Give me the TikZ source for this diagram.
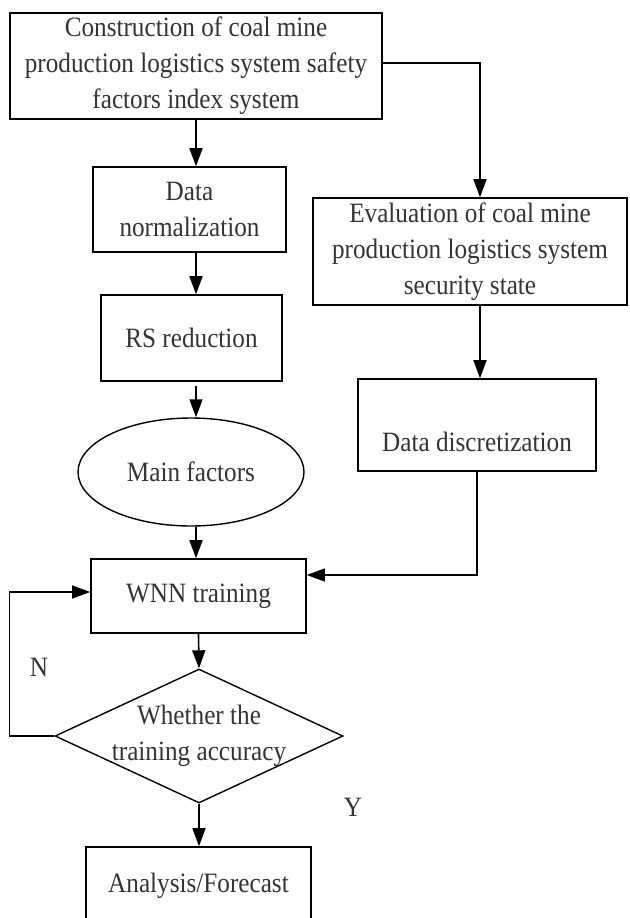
\documentclass[tikz,border=0pt]{standalone}
\usepackage{xcolor}
\usepackage{fontspec}
\setmainfont[FakeStretch=0.9]{Liberation Serif}
\usepackage{tikz}
\usetikzlibrary{shapes.geometric,arrows.meta}

\begin{document}
\begin{tikzpicture}[x=1pt,y=-1pt]
        % Define styles
        \tikzset{
            stepbox/.style={rectangle, draw, line width=1.6pt, align=center, inner sep=0pt},
            decision/.style={diamond, draw, line width=1.4pt, inner sep=0pt},
            result/.style={ellipse, draw, line width=1.4pt, inner sep=0pt},
            arrow/.style={-{Triangle[length=18pt,width=13pt]}, line width=1.6pt},
            every node/.style={font=\fontsize{28}{36}\selectfont, text=black!80}
        }
        \useasboundingbox (0,0) rectangle (629,918);

        % Nodes
        \node[stepbox, minimum width=372, minimum height=106] (construct) at (196,66)
            {Construction of coal mine\\production logistics system safety\\factors index system};
        \node[stepbox, minimum width=193, minimum height=85] (norm) at (189.5,209.5)
            {Data\\normalization};
        \node[stepbox, minimum width=181, minimum height=86] (rs) at (191.5,338) {RS reduction};
        \node[result, minimum width=226, minimum height=108] (mainf) at (191,472) {Main factors};
        \node[stepbox, minimum width=215, minimum height=74] (wnn) at (198.5,596) {WNN training};
        \node[decision, minimum width=288, minimum height=134,
            label={[align=center, text=black!80]center:Whether the\\training accuracy}] (accuracy) at (199,736) {};
        \node[stepbox, minimum width=225, minimum height=78] (analysis) at (198.5,886) {Analysis/Forecast};

        \node[stepbox, minimum width=314, minimum height=107] (evaluation) at (470,251.5)
            {Evaluation of coal mine\\production logistics system\\security state};
        \node[stepbox, minimum width=238, minimum height=92] (discrete) at (477,425)
            {\rule{0pt}{54pt}Data discretization};

        \node (no) at (39,667) {N};
        \node (yes) at (353,807) {Y};

        % Arrows
        \draw[arrow] (construct.south) -- (construct.south |- norm.north);
        \draw[arrow] (construct.south |- norm.south) -- (construct.south |- rs.north);
        \draw[arrow] ([yshift=-4pt]construct.south |- rs.south) -- (construct.south |- mainf.north);
        \draw[arrow] (construct.south |- mainf.south) -- (construct.south |- wnn.north);
        \draw[arrow] (wnn.south) -- (accuracy.north);
        \draw[arrow] (accuracy.south) -- (accuracy.south |- analysis.north);

        \draw[arrow] ([yshift=3pt]construct.east) -| ([xshift=10pt]evaluation.north);
        \draw[arrow] ([xshift=10pt]evaluation.south) -- ([xshift=10pt]evaluation.south |- discrete.north);
        \draw[arrow, line width=1.3pt] (discrete.south) |- ([yshift=21pt]wnn.east);
        \draw[arrow, line width=1.3pt] (accuracy.west) -- ++(-45,0) |- ([yshift=4pt]wnn.west);
    \end{tikzpicture}
\end{document}
